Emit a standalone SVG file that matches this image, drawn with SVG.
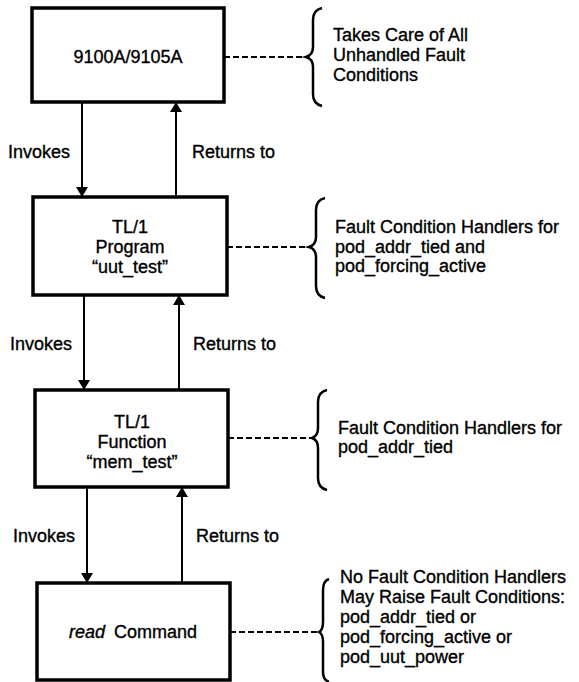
<svg xmlns="http://www.w3.org/2000/svg" width="579" height="682" viewBox="0 0 579 682">
<defs>
<style>
.box{fill:#fff;stroke:#000;stroke-width:3.5}
.t{font-family:"Liberation Sans",Arial,sans-serif;font-size:18px;fill:#000;stroke:#000;stroke-width:0.35}
.c{text-anchor:middle}
.ln{stroke:#000;stroke-width:2;fill:none}
.dash{stroke:#000;stroke-width:2;fill:none;stroke-dasharray:6 3}
.br{stroke:#000;stroke-width:2.5;fill:none}
</style>
<marker id="ah" viewBox="0 0 10 12" refX="10" refY="6" markerWidth="10" markerHeight="12" markerUnits="userSpaceOnUse" orient="auto">
<path d="M0,0 L10,6 L0,12 Z" fill="#000"/>
</marker>
</defs>
<rect width="579" height="682" fill="#fff"/>
<g id="connectors">
<line class="ln" x1="82" y1="102" x2="82" y2="197" marker-end="url(#ah)"/>
<line class="ln" x1="176" y1="197" x2="176" y2="102" marker-end="url(#ah)"/>
<line class="ln" x1="84" y1="295" x2="84" y2="390" marker-end="url(#ah)"/>
<line class="ln" x1="179" y1="390" x2="179" y2="295" marker-end="url(#ah)"/>
<line class="ln" x1="87" y1="487" x2="87" y2="583" marker-end="url(#ah)"/>
<line class="ln" x1="182" y1="583" x2="182" y2="487" marker-end="url(#ah)"/>
<text class="t" x="8" y="158">Invokes</text>
<text class="t" x="192" y="158">Returns to</text>
<text class="t" x="10" y="350">Invokes</text>
<text class="t" x="193" y="350">Returns to</text>
<text class="t" x="13" y="542">Invokes</text>
<text class="t" x="196" y="542">Returns to</text>
<line class="dash" x1="224" y1="57" x2="307" y2="57"/>
<line class="dash" x1="227" y1="247" x2="310" y2="247"/>
<line class="dash" x1="228" y1="438" x2="313" y2="438"/>
<line class="dash" x1="230" y1="632" x2="320" y2="632"/>
</g>
<g id="n1">
<rect class="box" x="32" y="8" width="192" height="94"/>
<text class="t c" x="128" y="63">9100A/9105A</text>
</g>
<g id="n2">
<rect class="box" x="33" y="197" width="194" height="98"/>
<text class="t c" x="130" y="233">TL/1</text>
<text class="t c" x="130" y="253">Program</text>
<text class="t c" x="130" y="273">“uut_test”</text>
</g>
<g id="n3">
<rect class="box" x="35" y="390" width="193" height="97"/>
<text class="t c" x="132" y="428">TL/1</text>
<text class="t c" x="132" y="448">Function</text>
<text class="t c" x="132" y="468">“mem_test”</text>
</g>
<g id="n4">
<rect class="box" x="37" y="583" width="193" height="97"/>
<text class="t c" x="133" y="638"><tspan font-style="italic">read</tspan><tspan dx="9">Command</tspan></text>
</g>
<g id="c1">
<path class="br" d="M322,8 Q313,10 313,20 L313,47 Q313,55 306,57 Q313,59 313,67 L313,94 Q313,104 322,106"/>
<text class="t" x="333" y="41">Takes Care of All</text>
<text class="t" x="333" y="61">Unhandled Fault</text>
<text class="t" x="333" y="81">Conditions</text>
</g>
<g id="c2">
<path class="br" d="M325,198 Q316,200 316,210 L316,237 Q316,245 309,247 Q316,249 316,257 L316,286 Q316,296 325,298"/>
<text class="t" x="335" y="233">Fault Condition Handlers for</text>
<text class="t" x="335" y="253">pod_addr_tied and</text>
<text class="t" x="335" y="272">pod_forcing_active</text>
</g>
<g id="c3">
<path class="br" d="M327,390 Q318,392 318,402 L318,428 Q318,436 312,438 Q318,440 318,448 L318,478 Q318,488 327,490"/>
<text class="t" x="338" y="434">Fault Condition Handlers for</text>
<text class="t" x="338" y="453">pod_addr_tied</text>
</g>
<g id="c4">
<path class="br" d="M329,579 Q323,581 323,590 L323,622 Q323,630 319,632 Q323,634 323,642 L323,672 Q323,680 329,682"/>
<text class="t" x="340" y="583">No Fault Condition Handlers</text>
<text class="t" x="340" y="603">May Raise Fault Conditions:</text>
<text class="t" x="340" y="623">pod_addr_tied or</text>
<text class="t" x="340" y="643">pod_forcing_active or</text>
<text class="t" x="340" y="663">pod_uut_power</text>
</g>
</svg>
